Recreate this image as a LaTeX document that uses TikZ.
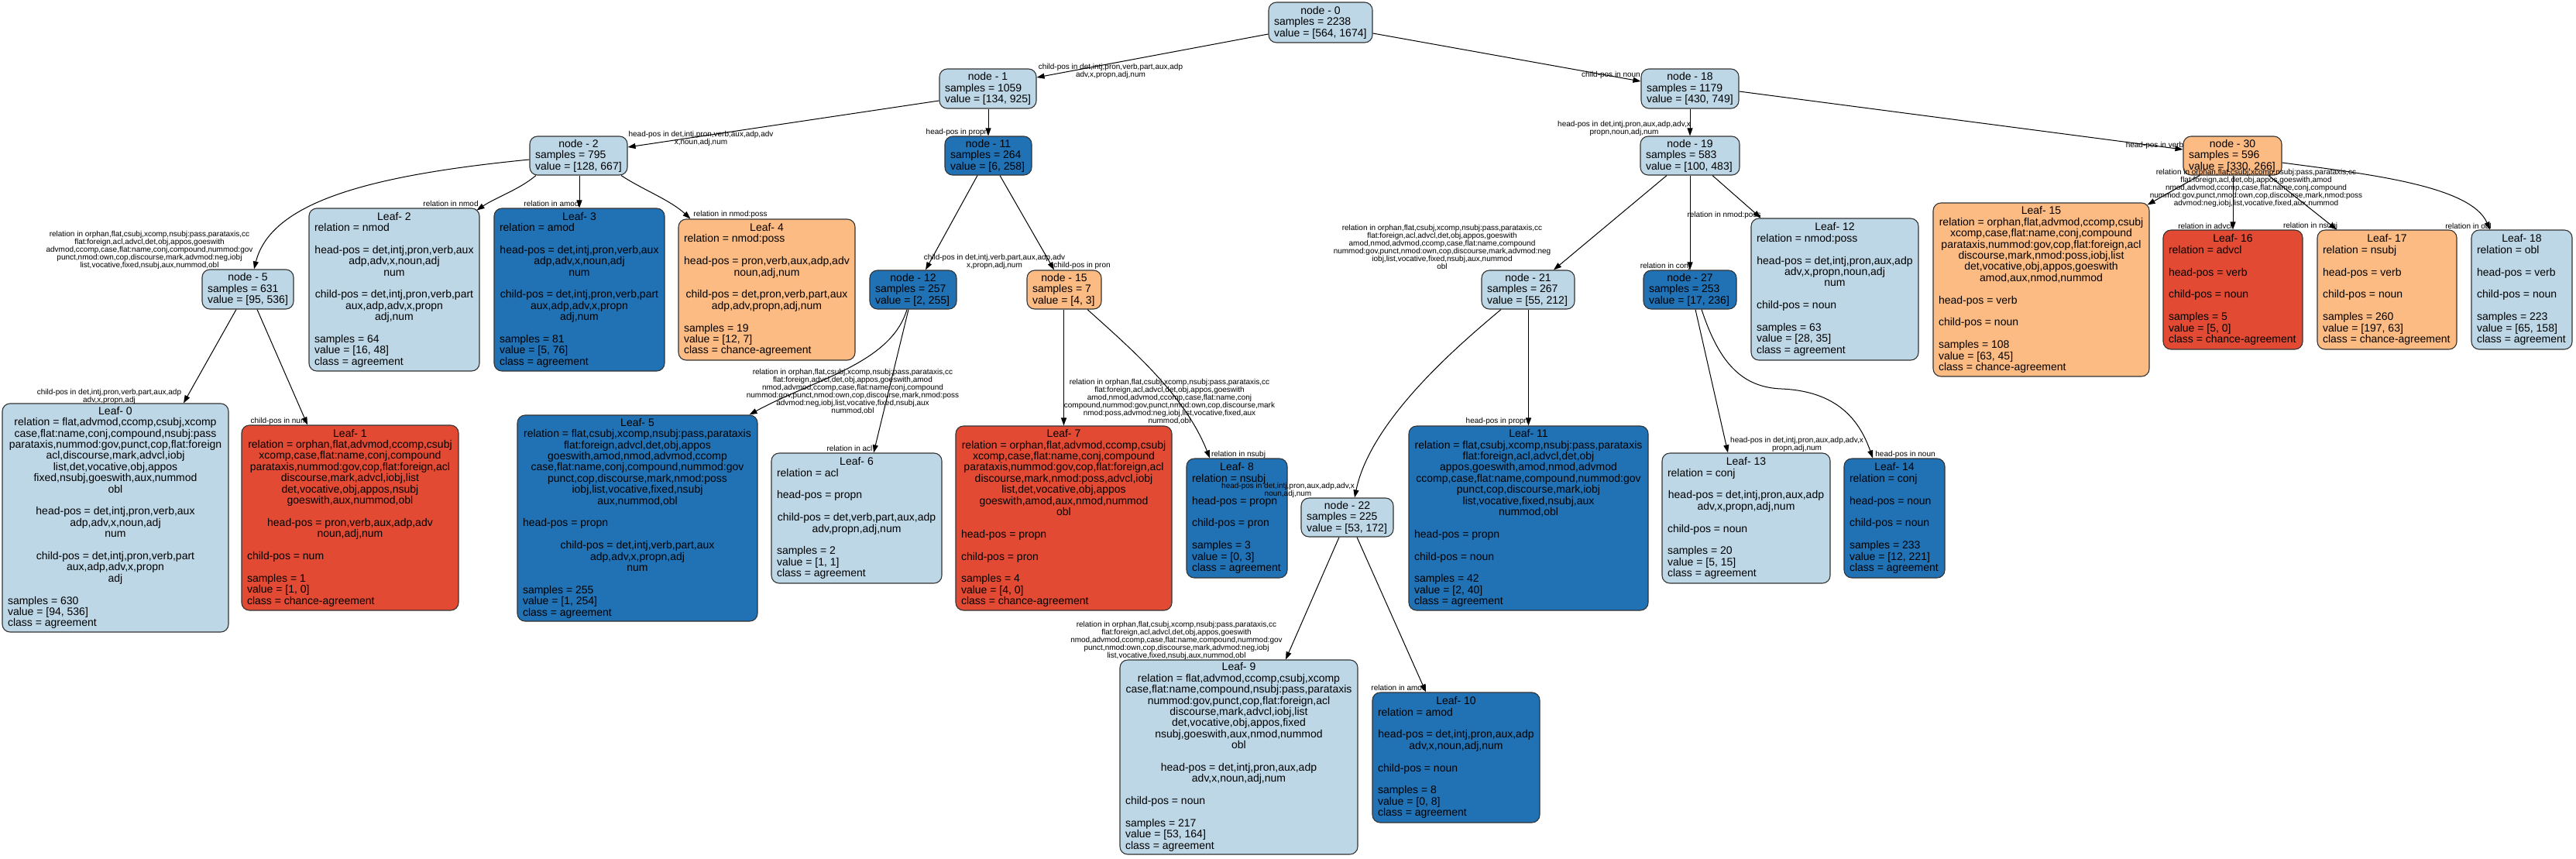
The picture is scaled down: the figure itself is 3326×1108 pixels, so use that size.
\documentclass[tikz,border=0pt]{standalone}
\usepackage{fontspec}
\setmainfont{Liberation Sans}
\usetikzlibrary{arrows.meta}
\definecolor{clb}{HTML}{BDD7E7}
\definecolor{cdb}{HTML}{2171B5}
\definecolor{cor}{HTML}{FDBB84}
\definecolor{crd}{HTML}{E34A33}
\newcommand{\Lf}[1]{\hbox to\hsize{#1\hfil}}
\newcommand{\Cf}[1]{\hbox to\hsize{\hfil#1\hfil}}
\newcommand{\Ef}{\hbox{}}
\newcommand{\NB}[2]{\vbox{\hsize=#1pt\relax\baselineskip=14.4pt\lineskiplimit=-100pt\lineskip=0pt #2}}
\tikzset{
  tn/.style={draw=black!80, rounded corners=10pt, line width=1.1pt, inner sep=0pt, anchor=center, font=\fontsize{14pt}{14.4pt}\selectfont},
  lbf/.style={fill=clb}, dbf/.style={fill=cdb}, orf/.style={fill=cor}, rdf/.style={fill=crd},
  elab/.style={font=\fontsize{10pt}{10pt}\selectfont, align=center, inner sep=0pt},
  edge/.style={draw=black, line width=1pt, -{Triangle[length=10pt,width=7pt]}}
}
\begin{document}
\begin{tikzpicture}[x=1pt,y=-1pt]
\fill[white] (0,0) rectangle (3326,1108);
\useasboundingbox (0,0) rectangle (3326,1108);
% internal nodes
\node[tn,lbf,minimum width=134pt,minimum height=52pt] (n0) at (1705,29) {\NB{120}{\Cf{node - 0}\Lf{samples = 2238}\Lf{value = [564, 1674]}}};
\node[tn,lbf,minimum width=125pt,minimum height=51pt] (n1) at (1275.5,114.5) {\NB{111}{\Cf{node - 1}\Lf{samples = 1059}\Lf{value = [134, 925]}}};
\node[tn,lbf,minimum width=126pt,minimum height=51pt] (n18) at (2182,114.5) {\NB{112}{\Cf{node - 18}\Lf{samples = 1179}\Lf{value = [430, 749]}}};
\node[tn,lbf,minimum width=126pt,minimum height=50pt] (n2) at (747,201) {\NB{112}{\Cf{node - 2}\Lf{samples = 795}\Lf{value = [128, 667]}}};
\node[tn,dbf,minimum width=112pt,minimum height=50pt] (n11) at (1276,201) {\NB{98}{\Cf{node - 11}\Lf{samples = 264}\Lf{value = [6, 258]}}};
\node[tn,lbf,minimum width=128pt,minimum height=50pt] (n19) at (2182,201) {\NB{114}{\Cf{node - 19}\Lf{samples = 583}\Lf{value = [100, 483]}}};
\node[tn,orf,minimum width=127pt,minimum height=50pt] (n30) at (2882.5,201) {\NB{113}{\Cf{node - 30}\Lf{samples = 596}\Lf{value = [330, 266]}}};
\node[tn,lbf,minimum width=118pt,minimum height=51pt] (n5) at (320,373.5) {\NB{104}{\Cf{node - 5}\Lf{samples = 631}\Lf{value = [95, 536]}}};
\node[tn,dbf,minimum width=112pt,minimum height=50pt] (n12) at (1179,374) {\NB{98}{\Cf{node - 12}\Lf{samples = 257}\Lf{value = [2, 255]}}};
\node[tn,orf,minimum width=96pt,minimum height=50pt] (n15) at (1374,374) {\NB{82}{\Cf{node - 15}\Lf{samples = 7}\Lf{value = [4, 3]}}};
\node[tn,lbf,minimum width=120pt,minimum height=50pt] (n21) at (1973,374) {\NB{106}{\Cf{node - 21}\Lf{samples = 267}\Lf{value = [55, 212]}}};
\node[tn,dbf,minimum width=120pt,minimum height=50pt] (n27) at (2182,374) {\NB{106}{\Cf{node - 27}\Lf{samples = 253}\Lf{value = [17, 236]}}};
\node[tn,lbf,minimum width=119pt,minimum height=50pt] (n22) at (1739.5,668) {\NB{105}{\Cf{node - 22}\Lf{samples = 225}\Lf{value = [53, 172]}}};
% leaves
\node[tn,lbf,minimum width=292pt,minimum height=295pt] (L0) at (149,668.5) {\NB{278}{\Cf{Leaf- 0}\Cf{relation = flat,advmod,ccomp,csubj,xcomp}\Cf{case,flat:name,conj,compound,nsubj:pass}\Cf{parataxis,nummod:gov,punct,cop,flat:foreign}\Cf{acl,discourse,mark,advcl,iobj}\Cf{list,det,vocative,obj,appos}\Cf{fixed,nsubj,goeswith,aux,nummod}\Cf{obl}\Ef\Cf{head-pos = det,intj,pron,verb,aux}\Cf{adp,adv,x,noun,adj}\Cf{num}\Ef\Cf{child-pos = det,intj,pron,verb,part}\Cf{aux,adp,adv,x,propn}\Cf{adj}\Ef\Lf{samples = 630}\Lf{value = [94, 536]}\Lf{class = agreement}}};
\node[tn,rdf,minimum width=280pt,minimum height=239pt] (L1) at (452,668.5) {\NB{266}{\Cf{Leaf- 1}\Cf{relation = orphan,flat,advmod,ccomp,csubj}\Cf{xcomp,case,flat:name,conj,compound}\Cf{parataxis,nummod:gov,cop,flat:foreign,acl}\Cf{discourse,mark,advcl,iobj,list}\Cf{det,vocative,obj,appos,nsubj}\Cf{goeswith,aux,nummod,obl}\Ef\Cf{head-pos = pron,verb,aux,adp,adv}\Cf{noun,adj,num}\Ef\Lf{child-pos = num}\Ef\Lf{samples = 1}\Lf{value = [1, 0]}\Lf{class = chance-agreement}}};
\node[tn,lbf,minimum width=220pt,minimum height=210pt] (L2) at (509,374) {\NB{206}{\Cf{Leaf- 2}\Lf{relation = nmod}\Ef\Cf{head-pos = det,intj,pron,verb,aux}\Cf{adp,adv,x,noun,adj}\Cf{num}\Ef\Cf{child-pos = det,intj,pron,verb,part}\Cf{aux,adp,adv,x,propn}\Cf{adj,num}\Ef\Lf{samples = 64}\Lf{value = [16, 48]}\Lf{class = agreement}}};
\node[tn,dbf,minimum width=220pt,minimum height=210pt] (L3) at (748,374) {\NB{206}{\Cf{Leaf- 3}\Lf{relation = amod}\Ef\Cf{head-pos = det,intj,pron,verb,aux}\Cf{adp,adv,x,noun,adj}\Cf{num}\Ef\Cf{child-pos = det,intj,pron,verb,part}\Cf{aux,adp,adv,x,propn}\Cf{adj,num}\Ef\Lf{samples = 81}\Lf{value = [5, 76]}\Lf{class = agreement}}};
\node[tn,orf,minimum width=228pt,minimum height=182pt] (L4) at (990,374) {\NB{214}{\Cf{Leaf- 4}\Lf{relation = nmod:poss}\Ef\Cf{head-pos = pron,verb,aux,adp,adv}\Cf{noun,adj,num}\Ef\Cf{child-pos = det,pron,verb,part,aux}\Cf{adp,adv,propn,adj,num}\Ef\Lf{samples = 19}\Lf{value = [12, 7]}\Lf{class = chance-agreement}}};
\node[tn,dbf,minimum width=310pt,minimum height=266pt] (L5) at (823,669) {\NB{296}{\Cf{Leaf- 5}\Cf{relation = flat,csubj,xcomp,nsubj:pass,parataxis}\Cf{flat:foreign,advcl,det,obj,appos}\Cf{goeswith,amod,nmod,advmod,ccomp}\Cf{case,flat:name,conj,compound,nummod:gov}\Cf{punct,cop,discourse,mark,nmod:poss}\Cf{iobj,list,vocative,fixed,nsubj}\Cf{aux,nummod,obl}\Ef\Lf{head-pos = propn}\Ef\Cf{child-pos = det,intj,verb,part,aux}\Cf{adp,adv,x,propn,adj}\Cf{num}\Ef\Lf{samples = 255}\Lf{value = [1, 254]}\Lf{class = agreement}}};
\node[tn,lbf,minimum width=220pt,minimum height=168pt] (L6) at (1106,669) {\NB{206}{\Cf{Leaf- 6}\Lf{relation = acl}\Ef\Lf{head-pos = propn}\Ef\Cf{child-pos = det,verb,part,aux,adp}\Cf{adv,propn,adj,num}\Ef\Lf{samples = 2}\Lf{value = [1, 1]}\Lf{class = agreement}}};
\node[tn,rdf,minimum width=279pt,minimum height=238pt] (L7) at (1373.5,669) {\NB{265}{\Cf{Leaf- 7}\Cf{relation = orphan,flat,advmod,ccomp,csubj}\Cf{xcomp,case,flat:name,conj,compound}\Cf{parataxis,nummod:gov,cop,flat:foreign,acl}\Cf{discourse,mark,nmod:poss,advcl,iobj}\Cf{list,det,vocative,obj,appos}\Cf{goeswith,amod,aux,nmod,nummod}\Cf{obl}\Ef\Lf{head-pos = propn}\Ef\Lf{child-pos = pron}\Ef\Lf{samples = 4}\Lf{value = [4, 0]}\Lf{class = chance-agreement}}};
\node[tn,dbf,minimum width=130pt,minimum height=154pt] (L8) at (1597,669) {\NB{116}{\Cf{Leaf- 8}\Lf{relation = nsubj}\Ef\Lf{head-pos = propn}\Ef\Lf{child-pos = pron}\Ef\Lf{samples = 3}\Lf{value = [0, 3]}\Lf{class = agreement}}};
\node[tn,lbf,minimum width=307pt,minimum height=251pt] (L9) at (1599.5,977.5) {\NB{293}{\Cf{Leaf- 9}\Cf{relation = flat,advmod,ccomp,csubj,xcomp}\Cf{case,flat:name,compound,nsubj:pass,parataxis}\Cf{nummod:gov,punct,cop,flat:foreign,acl}\Cf{discourse,mark,advcl,iobj,list}\Cf{det,vocative,obj,appos,fixed}\Cf{nsubj,goeswith,aux,nmod,nummod}\Cf{obl}\Ef\Cf{head-pos = det,intj,pron,aux,adp}\Cf{adv,x,noun,adj,num}\Ef\Lf{child-pos = noun}\Ef\Lf{samples = 217}\Lf{value = [53, 164]}\Lf{class = agreement}}};
\node[tn,dbf,minimum width=216pt,minimum height=168pt] (L10) at (1880,978) {\NB{202}{\Cf{Leaf- 10}\Lf{relation = amod}\Ef\Cf{head-pos = det,intj,pron,aux,adp}\Cf{adv,x,noun,adj,num}\Ef\Lf{child-pos = noun}\Ef\Lf{samples = 8}\Lf{value = [0, 8]}\Lf{class = agreement}}};
\node[tn,dbf,minimum width=309pt,minimum height=238pt] (L11) at (1973.5,669) {\NB{295}{\Cf{Leaf- 11}\Cf{relation = flat,csubj,xcomp,nsubj:pass,parataxis}\Cf{flat:foreign,acl,advcl,det,obj}\Cf{appos,goeswith,amod,nmod,advmod}\Cf{ccomp,case,flat:name,compound,nummod:gov}\Cf{punct,cop,discourse,mark,iobj}\Cf{list,vocative,fixed,nsubj,aux}\Cf{nummod,obl}\Ef\Lf{head-pos = propn}\Ef\Lf{child-pos = noun}\Ef\Lf{samples = 42}\Lf{value = [2, 40]}\Lf{class = agreement}}};
\node[tn,lbf,minimum width=216pt,minimum height=183pt] (L12) at (2369,373.5) {\NB{202}{\Cf{Leaf- 12}\Lf{relation = nmod:poss}\Ef\Cf{head-pos = det,intj,pron,aux,adp}\Cf{adv,x,propn,noun,adj}\Cf{num}\Ef\Lf{child-pos = noun}\Ef\Lf{samples = 63}\Lf{value = [28, 35]}\Lf{class = agreement}}};
\node[tn,lbf,minimum width=217pt,minimum height=168pt] (L13) at (2254.5,669) {\NB{203}{\Cf{Leaf- 13}\Lf{relation = conj}\Ef\Cf{head-pos = det,intj,pron,aux,adp}\Cf{adv,x,propn,adj,num}\Ef\Lf{child-pos = noun}\Ef\Lf{samples = 20}\Lf{value = [5, 15]}\Lf{class = agreement}}};
\node[tn,dbf,minimum width=130pt,minimum height=154pt] (L14) at (2446,669) {\NB{116}{\Cf{Leaf- 14}\Lf{relation = conj}\Ef\Lf{head-pos = noun}\Ef\Lf{child-pos = noun}\Ef\Lf{samples = 233}\Lf{value = [12, 221]}\Lf{class = agreement}}};
\node[tn,orf,minimum width=279pt,minimum height=224pt] (L15) at (2635.5,374) {\NB{265}{\Cf{Leaf- 15}\Cf{relation = orphan,flat,advmod,ccomp,csubj}\Cf{xcomp,case,flat:name,conj,compound}\Cf{parataxis,nummod:gov,cop,flat:foreign,acl}\Cf{discourse,mark,nmod:poss,iobj,list}\Cf{det,vocative,obj,appos,goeswith}\Cf{amod,aux,nmod,nummod}\Ef\Lf{head-pos = verb}\Ef\Lf{child-pos = noun}\Ef\Lf{samples = 108}\Lf{value = [63, 45]}\Lf{class = chance-agreement}}};
\node[tn,rdf,minimum width=180pt,minimum height=154pt] (L16) at (2883,374) {\NB{166}{\Cf{Leaf- 16}\Lf{relation = advcl}\Ef\Lf{head-pos = verb}\Ef\Lf{child-pos = noun}\Ef\Lf{samples = 5}\Lf{value = [5, 0]}\Lf{class = chance-agreement}}};
\node[tn,orf,minimum width=180pt,minimum height=154pt] (L17) at (3082,374) {\NB{166}{\Cf{Leaf- 17}\Lf{relation = nsubj}\Ef\Lf{head-pos = verb}\Ef\Lf{child-pos = noun}\Ef\Lf{samples = 260}\Lf{value = [197, 63]}\Lf{class = chance-agreement}}};
\node[tn,lbf,minimum width=130pt,minimum height=154pt] (L18) at (3256,374) {\NB{116}{\Cf{Leaf- 18}\Lf{relation = obl}\Ef\Lf{head-pos = verb}\Ef\Lf{child-pos = noun}\Ef\Lf{samples = 223}\Lf{value = [65, 158]}\Lf{class = agreement}}};
% edge labels
\node[elab] (l01) at (1434,92) {child-pos in det,intj,pron,verb,part,aux,adp\\adv,x,propn,adj,num};
\node[elab] (l018) at (2080,97) {child-pos in noun};
\node[elab] (l12) at (905,179) {head-pos in det,intj,pron,verb,aux,adp,adv\\x,noun,adj,num};
\node[elab] (l111) at (1236,171) {head-pos in propn};
\node[elab] (l25) at (193,323) {relation in orphan,flat,csubj,xcomp,nsubj:pass,parataxis,cc\\flat:foreign,acl,advcl,det,obj,appos,goeswith\\advmod,ccomp,case,flat:name,conj,compound,nummod:gov\\punct,nmod:own,cop,discourse,mark,advmod:neg,iobj\\list,vocative,fixed,nsubj,aux,nummod,obl};
\node[elab] (l2L2) at (582,263) {relation in nmod};
\node[elab] (l2L3) at (712,263) {relation in amod};
\node[elab] (l2L4) at (943,277) {relation in nmod:poss};
\node[elab] (l5L0) at (141,512) {child-pos in det,intj,pron,verb,part,aux,adp\\adv,x,propn,adj};
\node[elab] (l5L1) at (360,544) {child-pos in num};
\node[elab] (l1112) at (1284,338) {child-pos in det,intj,verb,part,aux,adp,adv\\x,propn,adj,num};
\node[elab] (l1115) at (1397,343) {child-pos in pron};
\node[elab] (l12L5) at (1101,506) {relation in orphan,flat,csubj,xcomp,nsubj:pass,parataxis,cc\\flat:foreign,advcl,det,obj,appos,goeswith,amod\\nmod,advmod,ccomp,case,flat:name,conj,compound\\nummod:gov,punct,nmod:own,cop,discourse,mark,nmod:poss\\advmod:neg,iobj,list,vocative,fixed,nsubj,aux\\nummod,obl};
\node[elab] (l12L6) at (1097,579) {relation in acl};
\node[elab] (l15L7) at (1510,519) {relation in orphan,flat,csubj,xcomp,nsubj:pass,parataxis,cc\\flat:foreign,acl,advcl,det,obj,appos,goeswith\\amod,nmod,advmod,ccomp,case,flat:name,conj\\compound,nummod:gov,punct,nmod:own,cop,discourse,mark\\nmod:poss,advmod:neg,iobj,list,vocative,fixed,aux\\nummod,obl};
\node[elab] (l15L8) at (1599,587) {relation in nsubj};
\node[elab] (l1819) at (2097,166) {head-pos in det,intj,pron,aux,adp,adv,x\\propn,noun,adj,num};
\node[elab] (l1830) at (2782,188) {head-pos in verb};
\node[elab] (l1921) at (1862,319) {relation in orphan,flat,csubj,xcomp,nsubj:pass,parataxis,cc\\flat:foreign,acl,advcl,det,obj,appos,goeswith\\amod,nmod,advmod,ccomp,case,flat:name,compound\\nummod:gov,punct,nmod:own,cop,discourse,mark,advmod:neg\\iobj,list,vocative,fixed,nsubj,aux,nummod\\obl};
\node[elab] (l1927) at (2150,344) {relation in conj};
\node[elab] (l19L12) at (2226,278) {relation in nmod:poss};
\node[elab] (l2122) at (1663,633) {head-pos in det,intj,pron,aux,adp,adv,x\\noun,adj,num};
\node[elab] (l21L11) at (1933,544) {head-pos in propn};
\node[elab] (l22L9) at (1519,827) {relation in orphan,flat,csubj,xcomp,nsubj:pass,parataxis,cc\\flat:foreign,acl,advcl,det,obj,appos,goeswith\\nmod,advmod,ccomp,case,flat:name,compound,nummod:gov\\punct,nmod:own,cop,discourse,mark,advmod:neg,iobj\\list,vocative,fixed,nsubj,aux,nummod,obl};
\node[elab] (l22L10) at (1806,888) {relation in amod};
\node[elab] (l27L13) at (2320,574) {head-pos in det,intj,pron,aux,adp,adv,x\\propn,adj,num};
\node[elab] (l27L14) at (2460,587) {head-pos in noun};
\node[elab] (l30L15) at (2913,243) {relation in orphan,flat,csubj,xcomp,nsubj:pass,parataxis,cc\\flat:foreign,acl,det,obj,appos,goeswith,amod\\nmod,advmod,ccomp,case,flat:name,conj,compound\\nummod:gov,punct,nmod:own,cop,discourse,mark,nmod:poss\\advmod:neg,iobj,list,vocative,fixed,aux,nummod};
\node[elab] (l30L16) at (2847,292) {relation in advcl};
\node[elab] (l30L17) at (2983,292) {relation in nsubj};
\node[elab] (l30L18) at (3187,292) {relation in obl};
% edges
\draw[edge] ([yshift=-15pt]n0.west) -- ([yshift=14.5pt]n1.east);
\draw[edge] ([yshift=-14pt]n0.east) -- ([yshift=9.5pt]n18.west);
\draw[edge] ([yshift=-15.5pt]n1.west) -- ([yshift=11pt]n2.east);
\draw[edge] (n11.north |- n1.south) -- (n11.north);
\draw[edge] ([yshift=-5pt]n2.west) .. controls (480,226) and (350,260) .. ([xshift=8pt]n5.north);
\draw[edge] ([xshift=-55pt]n2.south) .. controls (670,245) and (640,255) .. ([xshift=-4pt,yshift=-3pt]L2.north east);
\draw[edge] (L3.north |- n2.south) -- (L3.north);
\draw[edge] ([xshift=55pt]n2.south) .. controls (830,245) and (865,258) .. ([xshift=16pt]L4.north west);
\draw[edge] ([xshift=-15pt]n5.south) -- ([xshift=88pt]L0.north);
\draw[edge] ([xshift=12pt]n5.south) -- ([xshift=-55pt]L1.north);
\draw[edge] ([xshift=-14pt]n11.south) -- ([xshift=16pt]n12.north);
\draw[edge] ([xshift=15pt]n11.south) -- ([xshift=-13pt]n15.north);
\draw[edge] ([xshift=-8pt]n12.south) .. controls (1150,470) and (1050,490) .. ([xshift=-11pt]L5.north east);
\draw[edge] ([xshift=-6pt]n12.south) -- ([xshift=22pt]L6.north);
\draw[edge] (L7.north |- n15.south) -- (L7.north);
\draw[edge] ([xshift=30pt]n15.south) .. controls (1460,450) and (1530,510) .. ([xshift=-35pt]L8.north);
\draw[edge] (n18.south) -- (n19.north);
\draw[edge] ([yshift=-3.5pt]n18.east) -- ([yshift=8pt]n30.west);
\draw[edge] ([xshift=-30pt]n19.south) -- ([xshift=33pt]n21.north);
\draw[edge] (n19.south) -- (n27.north);
\draw[edge] ([xshift=29pt]n19.south) -- ([xshift=13pt]L12.north west);
\draw[edge] ([xshift=-35pt]n21.south) .. controls (1890,440) and (1770,540) .. ([xshift=9.5pt]n22.north);
\draw[edge] (L11.north |- n21.south) -- (L11.north);
\draw[edge] ([xshift=-10.5pt]n22.south) -- ([xshift=60.5pt]L9.north);
\draw[edge] ([xshift=12.5pt]n22.south) -- ([xshift=-39pt]L10.north);
\draw[edge] ([xshift=7pt]n27.south) -- ([xshift=-23.5pt]L13.north);
\draw[edge] ([xshift=15pt]n27.south) .. controls (2220,470) and (2250,500) .. (2300,502) .. controls (2370,505) and (2400,540) .. ([xshift=-28pt]L14.north);
\draw[edge] ([xshift=-42.5pt]n30.south) -- ([xshift=-3pt,yshift=-3pt]L15.north east);
\draw[edge] (L16.north |- n30.south) -- (L16.north);
\draw[edge] ([xshift=46.5pt]n30.south) -- ([xshift=-65pt]L17.north);
\draw[edge] ([yshift=-9pt]n30.east) .. controls (3060,225) and (3190,240) .. ([xshift=-41pt]L18.north);
\end{tikzpicture}
\end{document}
